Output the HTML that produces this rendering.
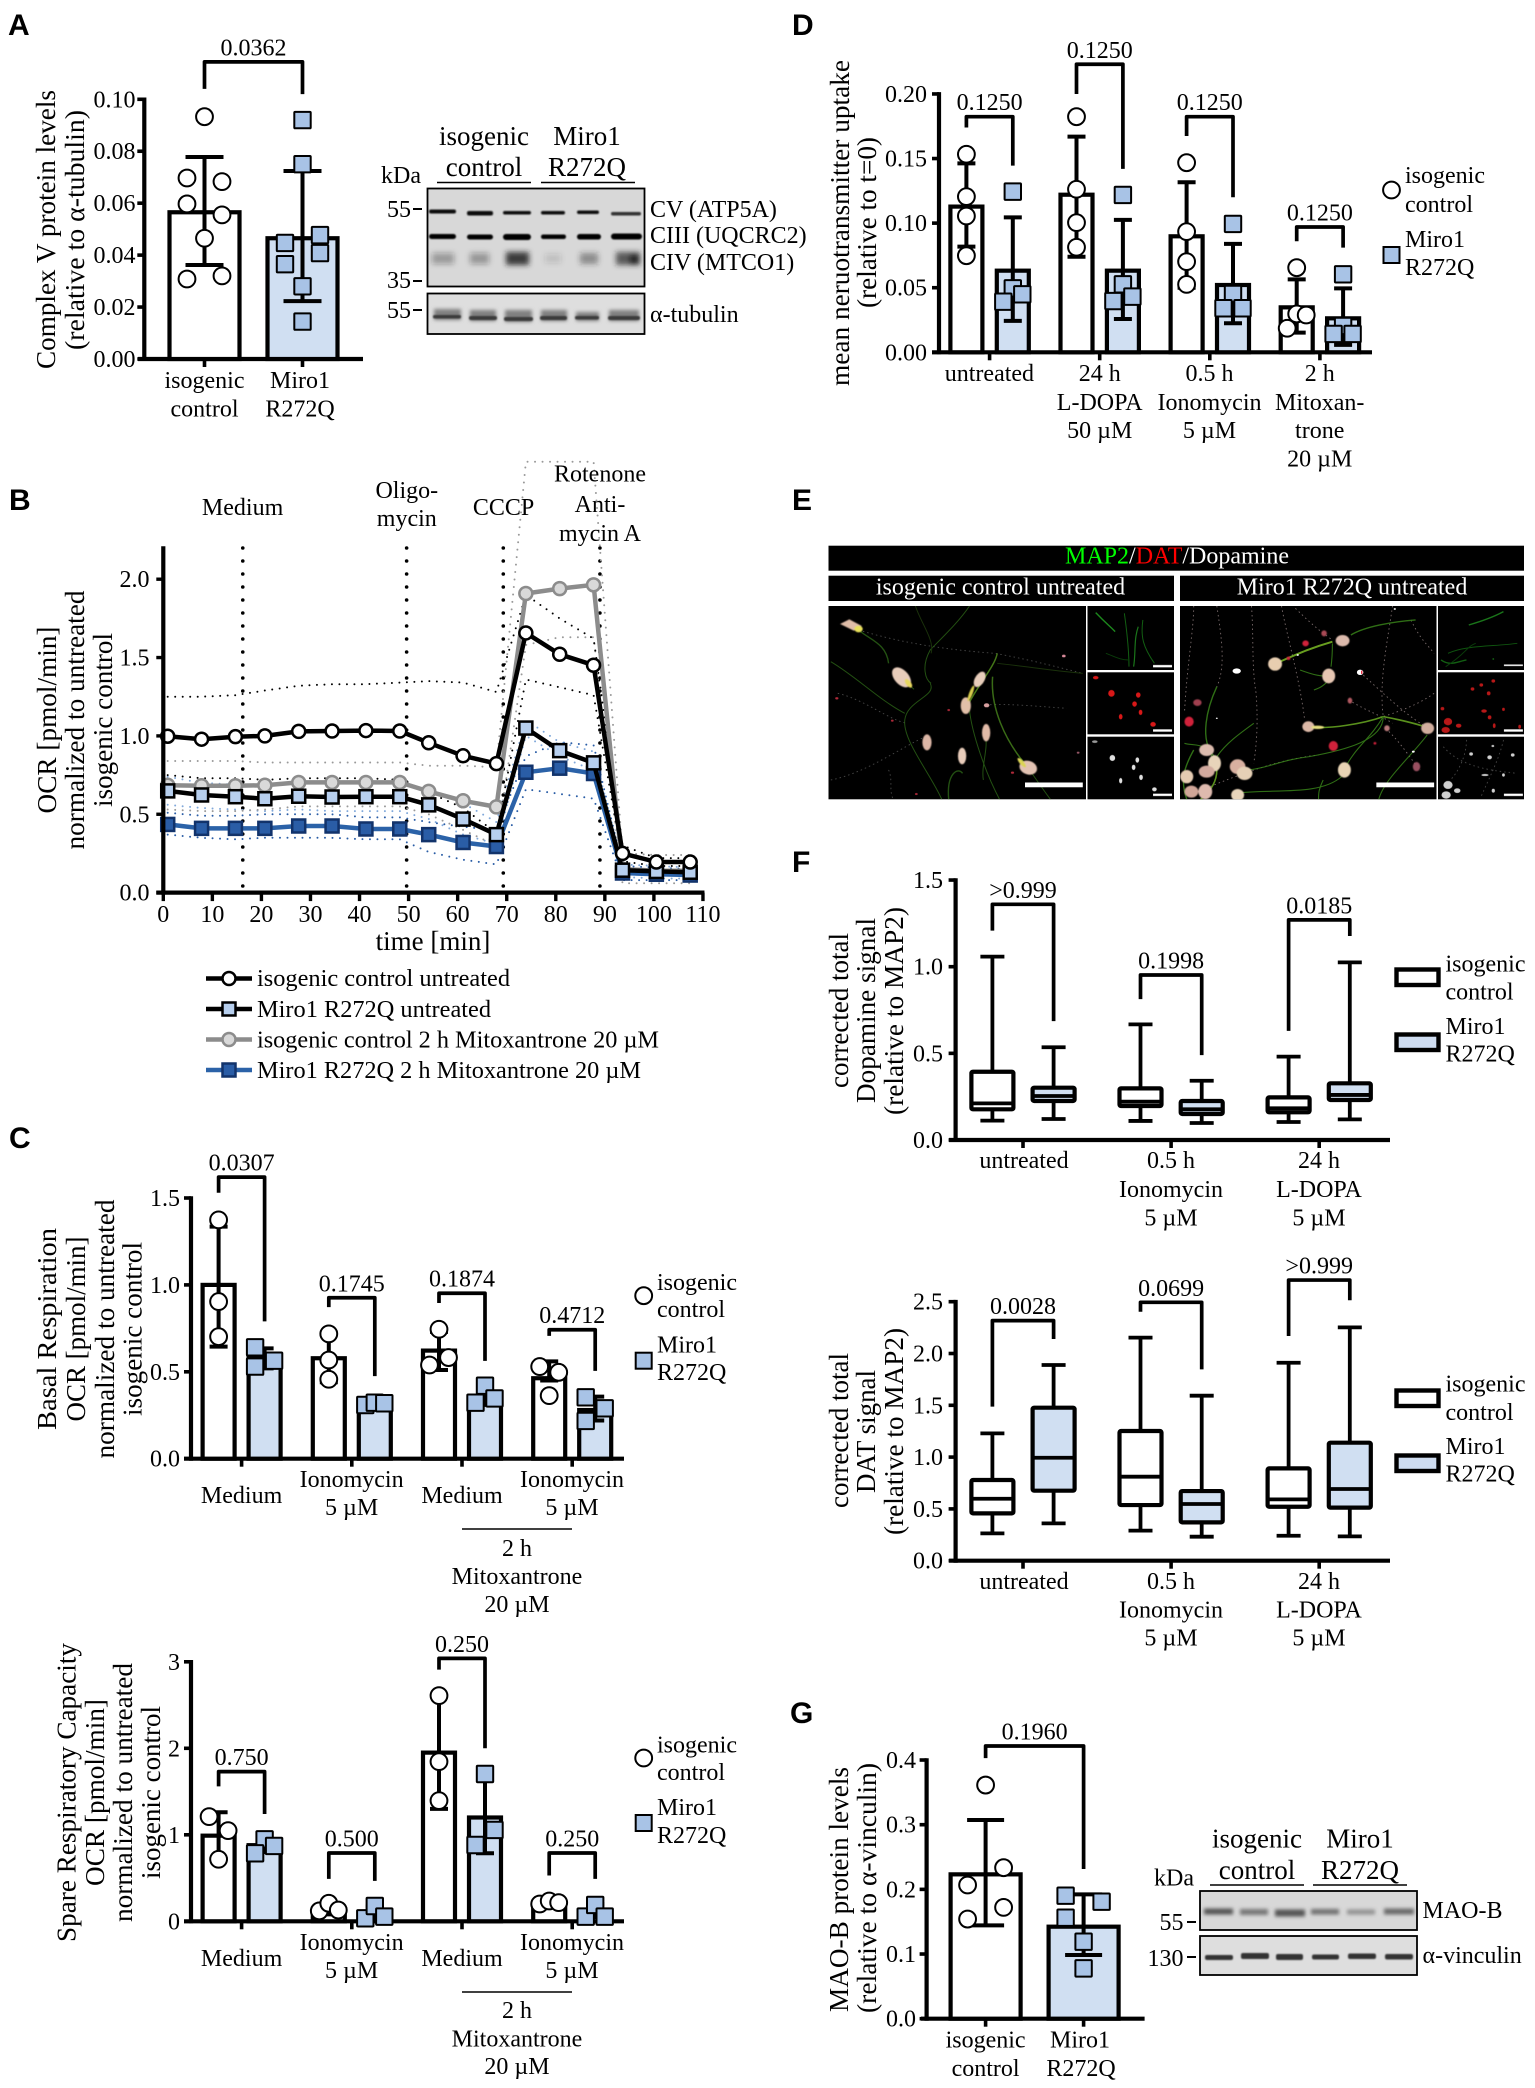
<!DOCTYPE html>
<html lang="en">
<head>
<meta charset="utf-8">
<title>Miro1 R272Q figure</title>
<style>
html,body{margin:0;padding:0;background:#fff}
svg{display:block;position:absolute;left:0;top:0}
text{font-family:"Liberation Serif","Noto Serif CJK SC",serif;font-size:24px;fill:#000}
.m{text-anchor:middle}
.b{text-anchor:middle;font-size:27px}
.t{font-size:27px;text-anchor:middle}
.p{font-family:"Liberation Sans","Noto Sans CJK SC",sans-serif;font-weight:bold;font-size:30px}
.w{fill:#fff}
.nss *{vector-effect:non-scaling-stroke}
</style>
</head>
<body>
<svg id="figure" xmlns="http://www.w3.org/2000/svg" width="1535" height="2088" viewBox="0 0 1535 2088">
<defs>
<filter id="blur1" x="-20%" y="-100%" width="140%" height="300%"><feGaussianBlur stdDeviation="0.9"/></filter>
<filter id="blur2" x="-20%" y="-100%" width="140%" height="300%"><feGaussianBlur stdDeviation="1.8"/></filter>
<filter id="blur3" x="-30%" y="-60%" width="160%" height="220%"><feGaussianBlur stdDeviation="2.6"/></filter>
<filter id="soft" x="-30%" y="-30%" width="160%" height="160%"><feGaussianBlur stdDeviation="1.2"/></filter>
<filter id="soft2" x="0%" y="0%" width="100%" height="100%"><feGaussianBlur stdDeviation="0.7"/></filter>
<clipPath id="clipL"><rect x="40" y="378" width="557" height="580"/></clipPath>
<clipPath id="clipR"><rect x="800" y="378" width="555" height="580"/></clipPath>
</defs>
<rect width="1535" height="2088" fill="#fff"/>

<!-- panel letters -->
<text class="p" x="8" y="35">A</text>
<text class="p" x="9" y="510">B</text>
<text class="p" x="9" y="1148">C</text>
<text class="p" x="792" y="35">D</text>
<text class="p" x="792" y="510">E</text>
<text class="p" x="792" y="872">F</text>
<text class="p" x="790" y="1723">G</text>

<!-- PANEL A -->
<g id="panelA"></g>
<g>
<text class="t" transform="translate(55,229.5) rotate(-90)" textLength="279" lengthAdjust="spacingAndGlyphs">Complex V protein levels</text>
<text class="t" transform="translate(84,230) rotate(-90)" textLength="240" lengthAdjust="spacingAndGlyphs">(relative to α-tubulin)</text>
<text class="m" x="204.5" y="388">isogenic</text>
<text class="m" x="204.5" y="416.5">control</text>
<text class="m" x="300" y="388">Miro1</text>
<text class="m" x="300" y="416.5">R272Q</text>
</g>
<g>
<text class="b" x="484" y="145">isogenic</text>
<text class="b" x="484" y="176">control</text>
<text class="b" x="587" y="145">Miro1</text>
<text class="b" x="587" y="176">R272Q</text>
<line x1="437" x2="531" y1="182.5" y2="182.5" stroke="#000" stroke-width="1.6"/>
<line x1="541" x2="635" y1="182.5" y2="182.5" stroke="#000" stroke-width="1.6"/>
<text x="381" y="183">kDa</text>
<text x="387" y="217">55</text>
<line x1="413" x2="422" y1="209" y2="209" stroke="#000" stroke-width="2"/>
<text x="387" y="288">35</text>
<line x1="413" x2="422" y1="281" y2="281" stroke="#000" stroke-width="2"/>
<text x="387" y="318">55</text>
<line x1="413" x2="422" y1="310" y2="310" stroke="#000" stroke-width="2"/>
<rect x="427.5" y="188.5" width="217" height="98" fill="#d8d8d8" stroke="#000" stroke-width="1.8"/>
<rect x="427.5" y="293.5" width="217" height="40.5" fill="#dedede" stroke="#000" stroke-width="1.8"/>
<g filter="url(#blur1)" fill="#111">
<rect x="429" y="209.5" width="27" height="4" rx="2"/>
<rect x="467" y="211" width="26" height="4.5" rx="2"/>
<rect x="503" y="211" width="28" height="3.5" rx="1.7"/>
<rect x="541" y="211" width="24" height="3.5" rx="1.7"/>
<rect x="577" y="210.5" width="22" height="3.5" rx="1.7"/>
<rect x="611" y="212" width="30" height="3.5" rx="1.7" fill="#333"/>
</g>
<g filter="url(#blur1)" fill="#000">
<rect x="429" y="234" width="27" height="5" rx="2.5"/>
<rect x="467" y="234.5" width="26" height="5" rx="2.5"/>
<rect x="503" y="234" width="28" height="6" rx="3"/>
<rect x="541" y="234.5" width="25" height="4.5" rx="2.2"/>
<rect x="577" y="234" width="24" height="5.5" rx="2.7"/>
<rect x="611" y="233.5" width="31" height="6" rx="3"/>
</g>
<g filter="url(#blur3)" fill="#222">
<rect x="432" y="253" width="22" height="11" opacity=".32"/>
<rect x="470" y="253" width="19" height="11" opacity=".34"/>
<rect x="506" y="252" width="23" height="13" opacity=".85"/>
<rect x="545" y="254" width="16" height="9" opacity=".14"/>
<rect x="580" y="253" width="18" height="11" opacity=".42"/>
<rect x="616" y="252" width="24" height="13" opacity=".7"/>
<rect x="630" y="255" width="9" height="9"/>
</g>
<g filter="url(#blur2)" fill="#808080">
<rect x="434" y="309" width="27" height="11"/>
<rect x="470" y="310" width="26" height="11"/>
<rect x="505" y="310" width="27" height="12"/>
<rect x="541" y="310" width="26" height="11"/>
<rect x="576" y="312" width="23" height="9"/>
<rect x="609" y="310" width="30" height="11"/>
</g>
<g filter="url(#blur1)" fill="#3a3a3a">
<rect x="433" y="315" width="28" height="3.5" rx="1.7"/>
<rect x="469" y="316" width="28" height="4" rx="2"/>
<rect x="504" y="317" width="29" height="4" rx="2"/>
<rect x="540" y="316" width="27" height="4" rx="2"/>
<rect x="575" y="316" width="24" height="3.5" rx="1.7"/>
<rect x="608" y="316" width="32" height="4" rx="2"/>
</g>
<text x="650" y="217">CV (ATP5A)</text>
<text x="650" y="243">CIII (UQCRC2)</text>
<text x="650" y="270">CIV (MTCO1)</text>
<text x="650" y="322">α-tubulin</text>
</g>

<!-- PANEL B -->
<g id="panelB"></g>
<g>
<text class="m" x="242.6" y="515">Medium</text>
<text class="m" x="406.8" y="498">Oligo-</text>
<text class="m" x="406.8" y="526">mycin</text>
<text class="m" x="503.5" y="515">CCCP</text>
<text class="m" x="600" y="481.5">Rotenone</text>
<text class="m" x="600" y="512">Anti-</text>
<text class="m" x="600" y="541">mycin A</text>
<text class="m" x="433" y="950" font-size="27" style="font-size:27px">time [min]</text>
<text class="t" transform="translate(56,720) rotate(-90)" textLength="187" lengthAdjust="spacingAndGlyphs">OCR [pmol/min]</text>
<text class="t" transform="translate(84,720) rotate(-90)" textLength="259" lengthAdjust="spacingAndGlyphs">normalized to untreated</text>
<text class="t" transform="translate(112,720) rotate(-90)" textLength="174" lengthAdjust="spacingAndGlyphs">isogenic control</text>
</g>
<g>
<g>
<line x1="206" x2="252" y1="978.5" y2="978.5" stroke="#000" stroke-width="4.5"/>
<circle cx="229" cy="978.5" r="6.5" fill="#fff" stroke="#000" stroke-width="2.5"/>
<text x="257" y="986" textLength="253" lengthAdjust="spacingAndGlyphs">isogenic control untreated</text>
</g>
<g>
<line x1="206" x2="252" y1="1009" y2="1009" stroke="#000" stroke-width="4.5"/>
<rect x="222.5" y="1002.5" width="13" height="13" fill="#b7cfee" stroke="#000" stroke-width="2.5"/>
<text x="257" y="1017" textLength="234" lengthAdjust="spacingAndGlyphs">Miro1 R272Q untreated</text>
</g>
<g>
<line x1="206" x2="252" y1="1039.5" y2="1039.5" stroke="#8c8c8c" stroke-width="4.5"/>
<circle cx="229" cy="1039.5" r="6.5" fill="#d9d9d9" stroke="#8c8c8c" stroke-width="2.5"/>
<text x="257" y="1047.5" textLength="402" lengthAdjust="spacingAndGlyphs">isogenic control 2 h Mitoxantrone 20 µM</text>
</g>
<g>
<line x1="206" x2="252" y1="1070" y2="1070" stroke="#2b62a8" stroke-width="4.5"/>
<rect x="222.5" y="1063.5" width="13" height="13" fill="#2a5da6" stroke="#12336b" stroke-width="2.5"/>
<text x="257" y="1078" textLength="384" lengthAdjust="spacingAndGlyphs">Miro1 R272Q 2 h Mitoxantrone 20 µM</text>
</g>
</g>

<!-- PANEL C top -->
<g id="panelC1"></g>
<g>
<text class="t" transform="translate(56,1329) rotate(-90)" textLength="202" lengthAdjust="spacingAndGlyphs">Basal Respiration</text>
<text class="t" transform="translate(85,1329) rotate(-90)" textLength="185" lengthAdjust="spacingAndGlyphs">OCR [pmol/min]</text>
<text class="t" transform="translate(114,1329) rotate(-90)" textLength="259" lengthAdjust="spacingAndGlyphs">normalized to untreated</text>
<text class="t" transform="translate(141.5,1329) rotate(-90)" textLength="174" lengthAdjust="spacingAndGlyphs">isogenic control</text>
<text class="m" x="241.6" y="1503">Medium</text>
<text class="m" x="351.6" y="1487">Ionomycin</text>
<text class="m" x="351.6" y="1515">5 µM</text>
<text class="m" x="462" y="1503">Medium</text>
<text class="m" x="572" y="1487">Ionomycin</text>
<text class="m" x="572" y="1515">5 µM</text>
<line x1="462" x2="572" y1="1529" y2="1529" stroke="#000" stroke-width="1.6"/>
<text class="m" x="517" y="1556">2 h</text>
<text class="m" x="517" y="1584">Mitoxantrone</text>
<text class="m" x="517" y="1612">20 µM</text>
<circle cx="643.7" cy="1295.7" r="8.4" fill="#fff" stroke="#000" stroke-width="2"/>
<text x="657" y="1290">isogenic</text>
<text x="657" y="1317">control</text>
<rect x="635.7" y="1352.7" width="16" height="16" fill="#a8c3e6" stroke="#000" stroke-width="2"/>
<text x="657" y="1352.7">Miro1</text>
<text x="657" y="1380">R272Q</text>
</g>

<!-- PANEL C bottom -->
<g id="panelC2"></g>
<g>
<text class="t" transform="translate(75.5,1792.5) rotate(-90)" textLength="299" lengthAdjust="spacingAndGlyphs">Spare Respiratory Capacity</text>
<text class="t" transform="translate(104,1792.5) rotate(-90)" textLength="187" lengthAdjust="spacingAndGlyphs">OCR [pmol/min]</text>
<text class="t" transform="translate(132,1792.5) rotate(-90)" textLength="259" lengthAdjust="spacingAndGlyphs">normalized to untreated</text>
<text class="t" transform="translate(160,1792.5) rotate(-90)" textLength="173" lengthAdjust="spacingAndGlyphs">isogenic control</text>
<text class="m" x="241.6" y="1966">Medium</text>
<text class="m" x="351.6" y="1950">Ionomycin</text>
<text class="m" x="351.6" y="1978">5 µM</text>
<text class="m" x="462" y="1966">Medium</text>
<text class="m" x="572" y="1950">Ionomycin</text>
<text class="m" x="572" y="1978">5 µM</text>
<line x1="462" x2="572" y1="1992" y2="1992" stroke="#000" stroke-width="1.6"/>
<text class="m" x="517" y="2018">2 h</text>
<text class="m" x="517" y="2046.5">Mitoxantrone</text>
<text class="m" x="517" y="2074">20 µM</text>
<circle cx="643.7" cy="1758" r="8.4" fill="#fff" stroke="#000" stroke-width="2"/>
<text x="657" y="1752.7">isogenic</text>
<text x="657" y="1780">control</text>
<rect x="635.7" y="1815" width="16" height="16" fill="#a8c3e6" stroke="#000" stroke-width="2"/>
<text x="657" y="1815">Miro1</text>
<text x="657" y="1843">R272Q</text>
</g>

<!-- PANEL D -->
<g id="panelD"></g>
<g>
<text class="t" transform="translate(849,223) rotate(-90)" textLength="326" lengthAdjust="spacingAndGlyphs">mean neruotransmitter uptake</text>
<text class="t" transform="translate(876,222.5) rotate(-90)" textLength="171" lengthAdjust="spacingAndGlyphs">(relative to t=0)</text>
<text class="m" x="989.4" y="381">untreated</text>
<text class="m" x="1099.7" y="381">24 h</text>
<text class="m" x="1099.7" y="410">L-DOPA</text>
<text class="m" x="1099.7" y="438">50 µM</text>
<text class="m" x="1209.5" y="381">0.5 h</text>
<text class="m" x="1209.5" y="410">Ionomycin</text>
<text class="m" x="1209.5" y="438">5 µM</text>
<text class="m" x="1319.7" y="381">2 h</text>
<text class="m" x="1319.7" y="410">Mitoxan-</text>
<text class="m" x="1319.7" y="438">trone</text>
<text class="m" x="1319.7" y="466.5">20 µM</text>
<circle cx="1391.5" cy="190" r="8.4" fill="#fff" stroke="#000" stroke-width="2"/>
<text x="1405" y="183">isogenic</text>
<text x="1405" y="212">control</text>
<rect x="1383.5" y="247" width="16" height="16" fill="#a8c3e6" stroke="#000" stroke-width="2"/>
<text x="1405" y="247">Miro1</text>
<text x="1405" y="275">R272Q</text>
</g>

<!-- PANEL E -->
<g>
<rect x="828.5" y="545.7" width="695.5" height="25" fill="#000"/>
<text class="m" x="1177" y="563.5"><tspan fill="#00ff00">MAP2</tspan><tspan fill="#fff">/</tspan><tspan fill="#ff0000">DAT</tspan><tspan fill="#fff">/Dopamine</tspan></text>
<rect x="828.5" y="575.7" width="345.5" height="25.3" fill="#000"/>
<rect x="1180" y="575.7" width="344" height="25.3" fill="#000"/>
<text class="m w" x="1000.5" y="594.5">isogenic control untreated</text>
<text class="m w" x="1352" y="594.5">Miro1 R272Q untreated</text>
<rect x="828.5" y="606" width="257.5" height="193.3" fill="#000"/>
<rect x="1087.5" y="606" width="86.5" height="64" fill="#000"/>
<rect x="1087.5" y="672.3" width="86.5" height="62" fill="#000"/>
<rect x="1087.5" y="736.7" width="86.5" height="62.6" fill="#000"/>
<rect x="1180" y="606" width="256.5" height="193.3" fill="#000"/>
<rect x="1438" y="606" width="86" height="64" fill="#000"/>
<rect x="1438" y="672.3" width="86" height="62" fill="#000"/>
<rect x="1438" y="736.7" width="86" height="62.6" fill="#000"/>

<g class="nss" transform="translate(810 480) scale(.4623 .3333)">
<g clip-path="url(#clipL)">
<g fill="none" stroke="#666" stroke-width=".9" stroke-dasharray="1.5 3" opacity=".7">
<path d="M105,450C200,490 300,510 400,520C480,540 560,570 590,580"/><path d="M380,675C430,670 500,680 555,685"/><path d="M45,900C120,880 200,800 250,770"/><path d="M60,640C120,660 170,720 210,730"/><path d="M170,870C180,900 170,930 180,958"/>
</g>
<g fill="none" stroke="#2a5f16" stroke-width="1" opacity=".85">
<path d="M105,450C130,480 165,490 170,550" stroke-width="1.4"/><path d="M195,590L225,628"/><path d="M260,610C275,650 210,660 205,720C200,780 260,880 285,958"/><path d="M340,680C360,620 400,560 405,520" stroke-width="1.5" stroke="#4f8a1c"/><path d="M345,690C350,760 380,880 410,958"/><path d="M395,590C390,680 420,780 470,860" stroke-width="1.5" stroke="#437d1a"/><path d="M470,860C490,900 510,940 520,958"/><path d="M300,958C295,880 320,860 330,880" stroke-width="1.4"/><path d="M345,378C320,430 280,480 260,510C240,560 250,600 262,610"/><path d="M45,545C100,590 150,660 205,700"/><path d="M380,770C385,810 370,860 375,900"/><path d="M405,550C470,560 540,575 590,580" stroke="#1f3a0d"/><path d="M228,378C240,430 270,480 262,520" stroke="#1f3a0d"/>
</g>
<g filter="url(#soft)">
<path d="M65,432L85,418L112,438L95,452Z" fill="#e0bda8"/><ellipse cx="105" cy="447" rx="9" ry="10" fill="#e8e05a"/>
<ellipse cx="198" cy="592" rx="17" ry="32" transform="rotate(-25 198 592)" fill="#e8cdbb"/><ellipse cx="213" cy="610" rx="6" ry="14" transform="rotate(-25 213 610)" fill="#e8d860"/>
<ellipse cx="367" cy="598" rx="11" ry="24" transform="rotate(18 367 598)" fill="#e8cdbb"/>
<ellipse cx="337" cy="677" rx="11" ry="25" fill="#e2bfa8"/><ellipse cx="348" cy="640" rx="4" ry="24" transform="rotate(15 348 640)" fill="#d8cc4c"/>
<ellipse cx="381" cy="758" rx="9" ry="26" fill="#e2bba8"/>
<ellipse cx="253" cy="787" rx="10" ry="24" fill="#dcb6a6"/>
<ellipse cx="329" cy="828" rx="9" ry="25" fill="#e8ccba"/>
<ellipse cx="472" cy="863" rx="18" ry="22" transform="rotate(-30 472 863)" fill="#e2c2b2"/><ellipse cx="458" cy="848" rx="5" ry="16" transform="rotate(-30 458 848)" fill="#dcd455"/>
</g>
<g fill="#b02a3a"><circle cx="58" cy="655" r="3.5"/><circle cx="549" cy="528" r="4" fill="#d88a9a"/><circle cx="438" cy="878" r="3.5"/><circle cx="230" cy="942" r="3"/><circle cx="382" cy="676" r="6" fill="#d8a0a0"/><circle cx="300" cy="690" r="3"/><circle cx="178" cy="722" r="3"/><circle cx="580" cy="818" r="3" fill="#995868"/></g>
</g>
<g clip-path="url(#clipR)">
<g fill="none" stroke="#907f7f" stroke-width=".9" stroke-dasharray="1.5 3" opacity=".85">
<path d="M830,378C830,450 815,560 810,700"/><path d="M880,378C890,470 900,560 880,620"/><path d="M955,378C960,470 955,560 965,640C970,740 965,800 960,850"/><path d="M1050,385C1090,440 1110,460 1130,480"/><path d="M1020,378C1030,460 1060,600 1070,720"/><path d="M1165,660C1200,690 1240,710 1260,730"/><path d="M1260,378C1250,480 1230,600 1240,710"/><path d="M1190,577C1240,640 1300,720 1340,745"/><path d="M1300,420C1320,480 1340,500 1350,520"/><path d="M1350,640C1310,680 1260,700 1240,710"/><path d="M830,940C900,900 1000,840 1100,825"/><path d="M1245,745C1280,790 1300,840 1320,870"/>
</g>
<g fill="none" stroke="#357a18" stroke-width="1.1" opacity=".9">
<path d="M1005,552C1050,525 1080,505 1130,485" stroke-width="2" stroke="#74b023"/><path d="M1170,465C1200,440 1260,425 1310,420" stroke-width="1.4"/><path d="M1078,740C1120,750 1200,730 1240,710C1280,720 1320,735 1340,745" stroke-width="1.6" stroke="#63a020"/><path d="M875,850C860,780 830,800 810,790" /><path d="M880,620C860,680 840,780 875,830" stroke-width="1.4"/><path d="M950,870C1000,860 1020,840 1080,830C1160,810 1240,780 1240,710" /><path d="M1155,870C1180,800 1210,780 1240,710"/><path d="M920,940C1000,925 1100,950 1150,890"/><path d="M1122,588C1100,590 1080,580 1060,570"/><path d="M1127,560C1130,530 1130,510 1130,490"/><path d="M1122,600C1110,620 1100,625 1090,630"/><path d="M1230,960C1240,900 1300,830 1335,765" /><path d="M830,810C810,860 800,900 815,958" stroke-width="1.4"/><path d="M880,870C880,900 870,930 845,958" stroke-width="1.6" stroke="#63a020"/><path d="M1110,900C1100,930 1100,940 1100,958"/><path d="M960,730C930,760 900,790 880,830"/>
</g>
<g filter="url(#soft)">
<ellipse cx="1006" cy="552" rx="15" ry="20" fill="#e8ceb0"/><ellipse cx="1152" cy="482" rx="15" ry="17" fill="#dcbaac"/><ellipse cx="1122" cy="588" rx="14" ry="22" fill="#e6c6b2"/><ellipse cx="1078" cy="740" rx="13" ry="16" fill="#dcb8a6"/><ellipse cx="1098" cy="742" rx="14" ry="5" fill="#e8e080"/><ellipse cx="1336" cy="745" rx="14" ry="17" fill="#d2ae9e"/><ellipse cx="1156" cy="870" rx="14" ry="23" fill="#e8d4b4"/>
<ellipse cx="858" cy="810" rx="16" ry="18" fill="#dcbcae"/><ellipse cx="875" cy="850" rx="14" ry="24" fill="#e8d4ba"/><ellipse cx="815" cy="890" rx="14" ry="20" fill="#e6ccb2"/><ellipse cx="858" cy="875" rx="17" ry="18" fill="#d2aa9e"/><ellipse cx="855" cy="935" rx="15" ry="23" fill="#debaae"/><ellipse cx="825" cy="935" rx="15" ry="18" fill="#d0a698"/><ellipse cx="925" cy="860" rx="17" ry="22" fill="#d8b0a0"/><ellipse cx="940" cy="880" rx="17" ry="20" fill="#e6d0b6"/><ellipse cx="925" cy="945" rx="14" ry="18" fill="#e8d4ba"/>
</g>
<g fill="#d0203a" filter="url(#soft)"><ellipse cx="1072" cy="490" rx="7" ry="9"/><ellipse cx="1132" cy="798" rx="10" ry="15"/><ellipse cx="820" cy="725" rx="10" ry="15"/><ellipse cx="838" cy="668" rx="9" ry="10" fill="#a04050"/><ellipse cx="1112" cy="460" rx="6" ry="9" fill="#a84854"/><ellipse cx="1168" cy="662" rx="5" ry="9" fill="#b05860"/><ellipse cx="1248" cy="745" rx="6" ry="9" fill="#b87878"/><ellipse cx="1312" cy="860" rx="8" ry="14" fill="#985060"/><ellipse cx="1222" cy="790" rx="3" ry="4"/><ellipse cx="1035" cy="535" rx="4" ry="5"/></g>
<g fill="#fff"><ellipse cx="923" cy="573" rx="9" ry="8"/><ellipse cx="1190" cy="577" rx="7" ry="8"/><circle cx="1055" cy="525" r="2.5"/><circle cx="1305" cy="815" r="3"/><circle cx="880" cy="715" r="2"/><circle cx="1265" cy="387" r="2.5"/></g>
<rect x="1192" y="572" width="3" height="10" fill="#e0243a"/>
</g>
<rect x="465" y="908" width="125" height="14" fill="#fff"/>
<rect x="1225" y="908" width="125" height="14" fill="#fff"/>

<g fill="none" stroke="#167016" stroke-width="1" opacity=".85">
<path d="M618,398C640,430 650,440 660,455" stroke-width="1.4" stroke="#22a022"/><path d="M680,400C685,450 690,510 690,560"/><path d="M720,420C715,470 720,500 745,550"/><path d="M710,440C700,480 705,520 700,560" stroke-width="1.2" stroke="#1f8a1f"/><path d="M640,520C660,530 670,540 690,540" stroke="#0c480c"/>
</g>
<g fill="#d81818"><ellipse cx="618" cy="593" rx="6" ry="5"/><ellipse cx="652" cy="640" rx="7" ry="10"/><ellipse cx="710" cy="645" rx="5" ry="8"/><ellipse cx="702" cy="672" rx="5" ry="8"/><ellipse cx="672" cy="710" rx="4" ry="8"/><ellipse cx="715" cy="697" rx="4" ry="8"/><ellipse cx="742" cy="733" rx="6" ry="7"/></g>
<g fill="#e0e0e0"><ellipse cx="616" cy="785" rx="6" ry="4" fill="#999"/><ellipse cx="654" cy="834" rx="6" ry="9"/><ellipse cx="708" cy="840" rx="4" ry="8"/><ellipse cx="700" cy="862" rx="4" ry="8"/><ellipse cx="672" cy="902" rx="3.5" ry="8"/><ellipse cx="716" cy="892" rx="4" ry="8"/><ellipse cx="745" cy="928" rx="5" ry="6"/></g>
<g fill="none" stroke="#167016" stroke-width="1" opacity=".85">
<path d="M1425,435C1450,425 1480,410 1500,395" stroke-width="1.4" stroke="#1f8a1f"/><path d="M1380,520C1420,495 1480,500 1530,490" stroke="#126212"/><path d="M1365,540C1385,560 1400,545 1420,540" stroke-width="1.4"/><path d="M1375,560C1420,520 1420,500 1440,490" stroke="#0c480c"/><circle cx="1478" cy="537" r="2" fill="#22a022" stroke="none"/>
</g>
<g fill="#b81818"><ellipse cx="1433" cy="627" rx="4" ry="5"/><ellipse cx="1452" cy="615" rx="4" ry="5"/><ellipse cx="1478" cy="603" rx="4" ry="5"/><ellipse cx="1468" cy="640" rx="4" ry="6"/><ellipse cx="1368" cy="686" rx="4" ry="5"/><ellipse cx="1458" cy="693" rx="6" ry="5"/><ellipse cx="1500" cy="688" rx="3" ry="5"/><ellipse cx="1470" cy="712" rx="4" ry="6"/><ellipse cx="1480" cy="737" rx="3" ry="7"/><ellipse cx="1380" cy="725" rx="9" ry="11"/><ellipse cx="1403" cy="737" rx="6" ry="6"/><ellipse cx="1375" cy="750" rx="9" ry="9"/><ellipse cx="1535" cy="740" rx="3" ry="6"/></g>
<g fill="#d0d0d0"><ellipse cx="1430" cy="822" rx="4" ry="5"/><ellipse cx="1470" cy="832" rx="5" ry="6"/><ellipse cx="1520" cy="825" rx="4" ry="5"/><ellipse cx="1477" cy="798" rx="3" ry="3"/><ellipse cx="1460" cy="885" rx="8" ry="3"/><ellipse cx="1500" cy="885" rx="3" ry="5"/><ellipse cx="1478" cy="932" rx="3.5" ry="6"/><ellipse cx="1380" cy="915" rx="10" ry="12"/><ellipse cx="1400" cy="932" rx="7" ry="7"/><ellipse cx="1376" cy="945" rx="10" ry="11"/>
<path d="M1370,800C1400,850 1450,870 1530,880M1420,780C1420,830 1400,880 1385,900M1500,780C1490,840 1470,890 1450,955" fill="none" stroke="#555" stroke-width=".8" stroke-dasharray="1.5 3"/></g>
<rect x="742" y="555" width="41" height="7" fill="#fff"/>
<rect x="742" y="748" width="41" height="7" fill="#fff"/>
<rect x="742" y="941" width="41" height="7" fill="#fff"/>
<rect x="1501" y="553" width="41" height="5" fill="#fff"/>
<rect x="1501" y="748" width="41" height="7" fill="#fff"/>
<rect x="1501" y="941" width="41" height="7" fill="#fff"/>
</g>
</g>

<!-- PANEL F top -->
<g id="panelF1"></g>
<g>
<text class="t" transform="translate(848,1010.5) rotate(-90)" textLength="155" lengthAdjust="spacingAndGlyphs">corrected total</text>
<text class="t" transform="translate(875,1010.5) rotate(-90)" textLength="185" lengthAdjust="spacingAndGlyphs">Dopamine signal</text>
<text class="t" transform="translate(903,1011) rotate(-90)" textLength="208" lengthAdjust="spacingAndGlyphs">(relative to MAP2)</text>
<text class="m" x="1024" y="1168">untreated</text>
<text class="m" x="1171" y="1168">0.5 h</text>
<text class="m" x="1171" y="1197">Ionomycin</text>
<text class="m" x="1171" y="1225.5">5 µM</text>
<text class="m" x="1319" y="1168">24 h</text>
<text class="m" x="1319" y="1197">L-DOPA</text>
<text class="m" x="1319" y="1225.5">5 µM</text>
<rect x="1396.5" y="969.5" width="42" height="15.5" fill="#fff" stroke="#000" stroke-width="4.4"/>
<text x="1445.5" y="971.5">isogenic</text>
<text x="1445.5" y="999.5">control</text>
<rect x="1396.5" y="1034.5" width="42" height="15.5" fill="#cedcf0" stroke="#000" stroke-width="4.4"/>
<text x="1445.5" y="1034">Miro1</text>
<text x="1445.5" y="1061.5">R272Q</text>
</g>

<!-- PANEL F bottom -->
<g id="panelF2"></g>
<g>
<text class="t" transform="translate(848,1430.5) rotate(-90)" textLength="155" lengthAdjust="spacingAndGlyphs">corrected total</text>
<text class="t" transform="translate(875,1431.5) rotate(-90)" textLength="123" lengthAdjust="spacingAndGlyphs">DAT signal</text>
<text class="t" transform="translate(903,1431.5) rotate(-90)" textLength="207" lengthAdjust="spacingAndGlyphs">(relative to MAP2)</text>
<text class="m" x="1024" y="1589">untreated</text>
<text class="m" x="1171" y="1589">0.5 h</text>
<text class="m" x="1171" y="1617.5">Ionomycin</text>
<text class="m" x="1171" y="1645.5">5 µM</text>
<text class="m" x="1319" y="1589">24 h</text>
<text class="m" x="1319" y="1617.5">L-DOPA</text>
<text class="m" x="1319" y="1645.5">5 µM</text>
<rect x="1396.5" y="1390.5" width="42" height="15.5" fill="#fff" stroke="#000" stroke-width="4.4"/>
<text x="1445.5" y="1391.5">isogenic</text>
<text x="1445.5" y="1420">control</text>
<rect x="1396.5" y="1455.5" width="42" height="15.5" fill="#cedcf0" stroke="#000" stroke-width="4.4"/>
<text x="1445.5" y="1454">Miro1</text>
<text x="1445.5" y="1481.5">R272Q</text>
</g>

<!-- PANEL G -->
<g id="panelG"></g>
<g>
<text class="t" transform="translate(848,1889.5) rotate(-90)" textLength="245" lengthAdjust="spacingAndGlyphs">MAO-B protein levels</text>
<text class="t" transform="translate(876,1888) rotate(-90)" textLength="250" lengthAdjust="spacingAndGlyphs">(relative to α-vinculin)</text>
<text class="m" x="985.6" y="2047.5">isogenic</text>
<text class="m" x="985.6" y="2076">control</text>
<text class="m" x="1080" y="2047.5">Miro1</text>
<text class="m" x="1081" y="2076">R272Q</text>
</g>
<g>
<text class="b" x="1257" y="1847.5">isogenic</text>
<text class="b" x="1257" y="1879">control</text>
<text class="b" x="1360" y="1847.5">Miro1</text>
<text class="b" x="1360" y="1879">R272Q</text>
<line x1="1210" x2="1304" y1="1885" y2="1885" stroke="#000" stroke-width="1.6"/>
<line x1="1313" x2="1407" y1="1885" y2="1885" stroke="#000" stroke-width="1.6"/>
<text x="1154" y="1885.5">kDa</text>
<text x="1183.5" y="1930" text-anchor="end">55</text>
<line x1="1187" x2="1196" y1="1922" y2="1922" stroke="#000" stroke-width="2"/>
<text x="1183.5" y="1966" text-anchor="end">130</text>
<line x1="1187" x2="1196" y1="1957" y2="1957" stroke="#000" stroke-width="2"/>
<rect x="1200" y="1891" width="217" height="39" fill="#d8d8d8" stroke="#000" stroke-width="1.8"/>
<rect x="1200" y="1936" width="217" height="39" fill="#dedede" stroke="#000" stroke-width="1.8"/>
<g filter="url(#blur2)" fill="#555">
<rect x="1204" y="1908.5" width="29" height="6"/>
<rect x="1240" y="1909" width="28" height="6" opacity=".75"/>
<rect x="1275" y="1909.5" width="30" height="7"/>
<rect x="1311" y="1909" width="28" height="5.5" opacity=".8"/>
<rect x="1347" y="1909.5" width="28" height="5" opacity=".55"/>
<rect x="1384" y="1908.5" width="30" height="6" opacity=".85"/>
</g>
<g filter="url(#blur1)" fill="#333">
<rect x="1205" y="1955" width="28" height="5" rx="2"/>
<rect x="1241" y="1953" width="28" height="6" rx="2"/>
<rect x="1276" y="1954" width="27" height="6" rx="2"/>
<rect x="1312" y="1954.5" width="27" height="5" rx="2"/>
<rect x="1348" y="1953.5" width="28" height="5.5" rx="2"/>
<rect x="1385" y="1954" width="28" height="5.5" rx="2"/>
</g>
<text x="1422.5" y="1918">MAO-B</text>
<text x="1422.5" y="1963">α-vinculin</text>
</g>

<script>
/* ---------- Panel A ---------- */
const aTickLabels = ['0.00','0.02','0.04','0.06','0.08','0.10'];
const aMeans = [0.0565,0.0465];
const aErrHigh = [0.0778,0.0724];
const aErrLow = [0.0362,0.0223];
const aPoints = [[0.0933,0.0697,0.0683,0.0597,0.0555,0.0465,0.0308,0.032],[0.092,0.075,0.0447,0.0477,0.0408,0.0365,0.028,0.0144]];
const aDodge = [[0,-1,1,-1,1,0,-1,1],[0,0,-1,1,1,-1,0,0]];
const aPValues = ['0.0362'];
const aBracketTop = [0.1144];
const aBracketLeftEnd = [0.104];
const aBracketRightEnd = [0.102];

/* ---------- Panel B ---------- */
const bXTickLabels = ['0','10','20','30','40','50','60','70','80','90','100','110'];
const bYTickLabels = ['0.0','0.5','1.0','1.5','2.0'];
const bInjectionTimes = [16.2,49.6,69.3,89];
const bTimes = [0.9,7.8,14.7,20.7,27.6,34.4,41.3,48.2,54.1,61.1,67.9,73.9,80.8,87.7,93.6,100.5,107.4];
const bControl = [0.998,0.979,0.995,1,1.029,1.031,1.034,1.031,0.956,0.873,0.823,1.657,1.521,1.451,0.25,0.195,0.195];
const bMiro = [0.649,0.623,0.612,0.599,0.615,0.61,0.612,0.612,0.56,0.469,0.37,1.05,0.906,0.828,0.143,0.135,0.13];
const bControlMito = [0.685,0.682,0.682,0.685,0.703,0.703,0.703,0.703,0.646,0.586,0.547,1.909,1.94,1.964,0.15,0.14,0.14];
const bMiroMito = [0.435,0.41,0.41,0.41,0.425,0.425,0.406,0.406,0.37,0.32,0.294,0.768,0.794,0.76,0.125,0.117,0.112];
const bControlUpper = [1.25,1.25,1.26,1.29,1.32,1.33,1.33,1.34,1.35,1.34,1.28,1.9,1.75,1.62,0.3,0.22,0.22];
const bControlLower = [0.75,0.73,0.73,0.72,0.73,0.73,0.73,0.72,0.64,0.54,0.38,1.36,1.31,1.26,0.2,0.17,0.17];
const bMiroUpper = [0.74,0.7,0.69,0.68,0.7,0.7,0.7,0.7,0.65,0.57,0.45,1.1,0.96,0.9,0.18,0.17,0.16];
const bMiroLower = [0.56,0.54,0.53,0.52,0.53,0.52,0.52,0.52,0.47,0.37,0.31,1,0.87,0.78,0.1,0.09,0.09];
const bControlMitoUpper = [0.84,0.84,0.84,0.83,0.83,0.83,0.83,0.83,0.81,0.81,0.8,2.75,2.75,2.75,0.25,0.24,0.24];
const bControlMitoLower = [0.53,0.52,0.52,0.53,0.55,0.55,0.55,0.55,0.5,0.4,0.3,1.58,1.63,1.63,0.06,0.06,0.06];
const bMiroMitoUpper = [0.51,0.49,0.49,0.5,0.5,0.5,0.48,0.48,0.45,0.42,0.4,0.87,0.96,0.94,0.17,0.16,0.15];
const bMiroMitoLower = [0.37,0.35,0.34,0.35,0.35,0.35,0.34,0.34,0.26,0.21,0.18,0.66,0.63,0.6,0.08,0.08,0.08];

/* ---------- Panel C, basal respiration ---------- */
const c1TickLabels = ['0.0','0.5','1.0','1.5'];
const c1Means = [1,0.58,0.578,0.315,0.622,0.36,0.463,0.28];
const c1ErrHigh = [1.335,0.635,0.72,0.33,0.73,0.42,0.56,0.357];
const c1ErrLow = [0.645,0.52,0.44,0.3,0.51,0.31,0.45,0.22];
const c1Points = [[1.374,0.904,0.702],[0.641,0.564,0.53],[0.718,0.568,0.457],[0.309,0.322,0.319],[0.745,0.539,0.582],[0.42,0.322,0.347],[0.53,0.497,0.363],[0.353,0.29,0.217]];
const c1Dodge = [[0,0,0],[-1,1,-1],[0,0,0],[-1,0,1],[0,-1,1],[0,-1,1],[-1,1,0],[-1,1,-1]];
const c1PValues = ['0.0307','0.1745','0.1874','0.4712'];
const c1BracketTop = [1.62,0.926,0.952,0.742];
const c1BracketLeftEnd = [1.53,0.872,0.896,0.707];
const c1BracketRightEnd = [0.79,0.475,0.563,0.505];

/* ---------- Panel C, spare capacity ---------- */
const c2TickLabels = ['0','1','2','3'];
const c2Means = [0.99,0.88,0.13,0.1,1.95,1.2,0.2,0.13];
const c2ErrHigh = [1.26,0.95,0.18,0.17,2.6,1.65,0.23,0.2];
const c2ErrLow = [0.72,0.8,0.08,0.03,1.3,0.786,0.17,0.05];
const c2Points = [[1.21,1.048,0.717],[0.948,0.786,0.871],[0.12,0.208,0.13],[0.035,0.177,0.054],[2.609,1.846,1.395],[1.703,1.056,0.882],[0.2,0.235,0.216],[0.054,0.189,0.054]];
const c2Dodge = [[-1,1,0],[0,-1,1],[-1,0,1],[-1,0,1],[0,0,0],[0,1,-1],[-1,0,1],[-1,0,1]];
const c2PValues = ['0.750','0.500','0.250','0.250'];
const c2BracketTop = [1.73,0.79,3.04,0.79];
const c2BracketLeftEnd = [1.56,0.49,2.91,0.53];
const c2BracketRightEnd = [1.24,0.467,2,0.49];

/* ---------- Panel D ---------- */
const dTickLabels = ['0.00','0.05','0.10','0.15','0.20'];
const dMeans = [0.1128,0.0632,0.122,0.0632,0.0898,0.0521,0.0348,0.0263];
const dErrHigh = [0.1463,0.1045,0.167,0.1025,0.1316,0.0839,0.0565,0.0495];
const dErrLow = [0.0818,0.0243,0.074,0.0258,0.05,0.0225,0.0152,0.0057];
const dPoints = [[0.1533,0.1205,0.1055,0.0748],[0.1244,0.0495,0.0392,0.0449],[0.1824,0.1262,0.1004,0.0813],[0.1218,0.0526,0.0397,0.0431],[0.1468,0.0934,0.0702,0.0526],[0.0994,0.0452,0.0341,0.0341],[0.0655,0.0297,0.0289,0.0186],[0.0604,0.0204,0.0142,0.0142]];
const dDodge = [[0,0,0,0],[0,0,-1,1],[0,0,0,0],[0,0,-1,1],[0,0,0,0],[0,0,-1,1],[0,0,1,-1],[0,0,-1,1]];
const dPValues = ['0.1250','0.1250','0.1250','0.1250'];
const dBracketTop = [0.1824,0.223,0.1824,0.097];
const dBracketLeftEnd = [0.174,0.2,0.1675,0.086];
const dBracketRightEnd = [0.1445,0.142,0.12,0.081];

/* ---------- Panel F, dopamine ---------- */
const f1TickLabels = ['0.0','0.5','1.0','1.5'];
const f1High = [1.058,0.535,0.667,0.342,0.481,1.025];
const f1Q3 = [0.394,0.302,0.298,0.225,0.246,0.327];
const f1Median = [0.2115,0.254,0.221,0.177,0.183,0.26];
const f1Q1 = [0.177,0.225,0.196,0.15,0.16,0.231];
const f1Low = [0.112,0.121,0.11,0.098,0.104,0.119];
const f1PValues = ['>0.999','0.1998','0.0185'];
const f1BracketTop = [1.36,0.952,1.27];
const f1BracketLeftEnd = [1.208,0.813,0.63];
const f1BracketRightEnd = [0.686,0.49,1.177];

/* ---------- Panel F, DAT ---------- */
const f2TickLabels = ['0.0','0.5','1.0','1.5','2.0','2.5'];
const f2High = [1.229,1.889,2.153,1.593,1.911,2.252];
const f2Q3 = [0.779,1.477,1.252,0.672,0.891,1.139];
const f2Median = [0.598,0.994,0.811,0.547,0.592,0.692];
const f2Q1 = [0.457,0.676,0.537,0.37,0.521,0.512];
const f2Low = [0.264,0.36,0.29,0.232,0.241,0.235];
const f2PValues = ['0.0028','0.0699','>0.999'];
const f2BracketTop = [2.317,2.494,2.709];
const f2BracketLeftEnd = [1.487,2.403,2.169];
const f2BracketRightEnd = [2.14,1.847,2.514];

/* ---------- Panel G ---------- */
const gTickLabels = ['0.0','0.1','0.2','0.3','0.4'];
const gMeans = [0.2232,0.1423];
const gErrHigh = [0.3072,0.1923];
const gErrLow = [0.1443,0.0985];
const gPoints = [[0.3613,0.2335,0.2067,0.1722,0.1541],[0.1902,0.1809,0.1562,0.1191,0.0778]];
const gDodge = [[0,1,-1,1,-1],[-1,1,-1,0,0]];
const gPValues = ['0.1960'];
const gBracketTop = [0.4217];
const gBracketLeftEnd = [0.403];
const gBracketRightEnd = [0.2314];

const SVGNS = 'http://www.w3.org/2000/svg';
const FILL_BAR = '#d0dff2';
const FILL_POINT = '#a8c3e6';

function add(parent, tag, attrs, text) {
  const el = document.createElementNS(SVGNS, tag);
  for (const k in attrs) el.setAttribute(k, attrs[k]);
  if (text !== undefined) el.textContent = text;
  parent.appendChild(el);
  return el;
}

function xCenter(c, i) {
  if (c.perGroup === 2) return c.x1 + Math.floor(i / 2) * c.dx + (i % 2 ? 1 : -1) * c.off;
  return c.x1 + i * c.dx;
}

function drawAxes(root, c) {
  const sy = v => c.y0 - v * c.unit;
  const topValue = c.yMax !== undefined ? c.yMax : parseFloat(c.tickLabels[c.tickLabels.length - 1]);
  const yAxis = add(root, 'line', {x1: c.axisX, x2: c.axisX, y1: sy(topValue) - 1.8, y2: c.y0 + 2, stroke: '#000', 'stroke-width': 4.2});
  
  
  const xAxis = add(root, 'line', {x1: c.xStart, x2: c.xEnd, y1: c.y0, y2: c.y0, stroke: '#000', 'stroke-width': 4.2});
  
  
  c.tickLabels.forEach(label => {
    const v = parseFloat(label);
    const tick = add(root, 'line', {x1: c.axisX - 7, x2: c.axisX, y1: sy(v), y2: sy(v), stroke: '#000', 'stroke-width': 3.6});
    
    
    const lab = add(root, 'text', {x: c.labelRight, y: sy(v) + 8, 'text-anchor': 'end'}, label);
    
    
  });
  for (let i = 0; i < c.xTicks; i++) {
    const x = c.x1 + i * c.dx;
    const tick = add(root, 'line', {x1: x, x2: x, y1: c.y0, y2: c.y0 + 8, stroke: '#000', 'stroke-width': 3.6});
    
    
  }
}

function drawBrackets(root, c) {
  const sy = v => c.y0 - v * c.unit;
  c.pValues.forEach((p, b) => {
    const i = c.perGroup === 2 ? 2 * b : 0;
    const xl = xCenter(c, i);
    const xr = xCenter(c, i + 1);
    const br = add(root, 'polyline', {
      points: [xl, sy(c.brLeft[b]), xl, sy(c.brTop[b]), xr, sy(c.brTop[b]), xr, sy(c.brRight[b])].join(','),
      fill: 'none', stroke: '#000', 'stroke-width': 3.7, 'stroke-linejoin': 'round'
    });
    
    
    const t = add(root, 'text', {x: (xl + xr) / 2, y: sy(c.brTop[b]) - 6.5, 'text-anchor': 'middle'}, p);
    
    
  });
}

function drawBarChart(root, c) {
  const sy = v => c.y0 - v * c.unit;
  drawAxes(root, c);
  c.means.forEach((m, i) => {
    const cx = xCenter(c, i);
    const bar = add(root, 'rect', {x: cx - c.barW / 2, y: sy(m), width: c.barW, height: c.y0 - sy(m), fill: i % 2 ? FILL_BAR : '#fff', stroke: '#000', 'stroke-width': 4.2});
    
    
  });
  c.means.forEach((m, i) => {
    const cx = xCenter(c, i);
    const stem = add(root, 'line', {x1: cx, x2: cx, y1: sy(c.errHigh[i]), y2: sy(c.errLow[i]), stroke: '#000', 'stroke-width': 4});
    
    
    [c.errHigh[i], c.errLow[i]].forEach(v => {
      const cap = add(root, 'line', {x1: cx - c.capW / 2, x2: cx + c.capW / 2, y1: sy(v), y2: sy(v), stroke: '#000', 'stroke-width': 4});
      
      
    });
  });
  c.points.forEach((group, i) => {
    const cx = xCenter(c, i);
    group.forEach((v, k) => {
      const x = cx + c.dodge[i][k] * c.dodgeStep;
      let mark;
      if (i % 2) {
        mark = add(root, 'rect', {x: x - 8.2, y: sy(v) - 8.2, width: 16.4, height: 16.4, rx: 0.8, fill: FILL_POINT, stroke: '#000', 'stroke-width': 2});
      } else {
        mark = add(root, 'circle', {cx: x, cy: sy(v), r: 8.4, fill: '#fff', stroke: '#000', 'stroke-width': 2});
      }
      
      
    });
  });
  drawBrackets(root, c);
}

function drawBoxChart(root, c) {
  const sy = v => c.y0 - v * c.unit;
  drawAxes(root, c);
  c.median.forEach((med, i) => {
    const cx = xCenter(c, i);
    const whisker = add(root, 'line', {x1: cx, x2: cx, y1: sy(c.high[i]), y2: sy(c.low[i]), stroke: '#000', 'stroke-width': 3.8});
    
    
    [c.high[i], c.low[i]].forEach(v => {
      const cap = add(root, 'line', {x1: cx - 12, x2: cx + 12, y1: sy(v), y2: sy(v), stroke: '#000', 'stroke-width': 3.8});
      
      
    });
    const box = add(root, 'rect', {x: cx - 21, y: sy(c.q3[i]), width: 42, height: sy(c.q1[i]) - sy(c.q3[i]), rx: 1.5, fill: i % 2 ? FILL_BAR : '#fff', stroke: '#000', 'stroke-width': 4.2});
    
    
    const line = add(root, 'line', {x1: cx - 21, x2: cx + 21, y1: sy(med), y2: sy(med), stroke: '#000', 'stroke-width': 3.8});
    
    
  });
  drawBrackets(root, c);
}

function drawLineChart(root) {
  const x0 = 163.3, pxPerMin = 4.906, y0 = 892.6, pxPerUnit = 156.7;
  const sx = t => x0 + t * pxPerMin;
  const sy = v => y0 - v * pxPerUnit;
  const path = vals => vals.map((v, i) => (i ? 'L' : 'M') + sx(bTimes[i]).toFixed(1) + ',' + sy(v).toFixed(1)).join('');

  bInjectionTimes.forEach(t => {
    const line = add(root, 'line', {x1: sx(t), x2: sx(t), y1: 548, y2: y0, stroke: '#000', 'stroke-width': 3.6, 'stroke-linecap': 'round', 'stroke-dasharray': '0 13'});
    
    
  });

  [[bMiroMitoUpper, '#2a5da6'], [bMiroMitoLower, '#2a5da6'], [bMiroUpper, '#80a8da'], [bMiroLower, '#80a8da'], [bControlMitoUpper, '#999'], [bControlMitoLower, '#999'], [bControlUpper, '#000'], [bControlLower, '#000']].forEach(pair => {
    const band = add(root, 'path', {d: path(pair[0]), fill: 'none', stroke: pair[1], 'stroke-width': 2, 'stroke-linecap': 'round', 'stroke-dasharray': '0 7.5'});
    
    
  });

  const seriesVals = [bMiroMito, bControlMito, bMiro, bControl];
  const seriesLine = ['#2b62a8', '#8c8c8c', '#000', '#000'];
  const seriesFill = ['#2a5da6', '#d9d9d9', '#b7cfee', '#fff'];
  const seriesEdge = ['#12336b', '#8c8c8c', '#000', '#000'];
  const seriesSquare = [true, false, true, false];
  seriesVals.forEach((vals, s) => {
    const ln = add(root, 'path', {d: path(vals), fill: 'none', stroke: seriesLine[s], 'stroke-width': 4.5, 'stroke-linejoin': 'round'});
    
    
    vals.forEach((v, i) => {
      let pt;
      if (seriesSquare[s]) {
        pt = add(root, 'rect', {x: sx(bTimes[i]) - 6.5, y: sy(v) - 6.5, width: 13, height: 13, fill: seriesFill[s], stroke: seriesEdge[s], 'stroke-width': 2.5});
      } else {
        pt = add(root, 'circle', {cx: sx(bTimes[i]), cy: sy(v), r: 6.5, fill: seriesFill[s], stroke: seriesEdge[s], 'stroke-width': 2.5});
      }
      
      
    });
  });

  const yAxis = add(root, 'line', {x1: x0, x2: x0, y1: sy(2.21), y2: y0 + 2, stroke: '#000', 'stroke-width': 4.2});
  
  
  const xAxis = add(root, 'line', {x1: x0 - 7, x2: sx(110) + 1.5, y1: y0, y2: y0, stroke: '#000', 'stroke-width': 4.2});
  
  
  bYTickLabels.forEach(label => {
    const v = parseFloat(label);
    const tick = add(root, 'line', {x1: x0 - 7, x2: x0, y1: sy(v), y2: sy(v), stroke: '#000', 'stroke-width': 3.4});
    
    
    const lab = add(root, 'text', {x: 149.5, y: sy(v) + 8, 'text-anchor': 'end'}, label);
    
    
  });
  bXTickLabels.forEach(label => {
    const t = parseFloat(label);
    const tick = add(root, 'line', {x1: sx(t), x2: sx(t), y1: y0, y2: y0 + 8.5, stroke: '#000', 'stroke-width': 3.4});
    
    
    const lab = add(root, 'text', {x: sx(t), y: 922, 'text-anchor': 'middle'}, label);
    
    
  });
}

const byId = id => document.getElementById(id);

drawBarChart(byId('panelA'), {
  axisX: 144.3, y0: 359, unit: 2597, xStart: 138, xEnd: 363, labelRight: 135.5, tickLabels: aTickLabels,
  perGroup: 1, x1: 204.5, dx: 98, off: 0, xTicks: 2, barW: 70, capW: 38, dodgeStep: 17.5,
  means: aMeans, errHigh: aErrHigh, errLow: aErrLow, points: aPoints, dodge: aDodge,
  pValues: aPValues, brTop: aBracketTop, brLeft: aBracketLeftEnd, brRight: aBracketRightEnd
});

drawLineChart(byId('panelB'));

drawBarChart(byId('panelC1'), {
  axisX: 191, y0: 1458.7, unit: 173.8, xStart: 184, xEnd: 624, labelRight: 180, tickLabels: c1TickLabels,
  perGroup: 2, x1: 241.6, dx: 110.2, off: 23, xTicks: 4, barW: 32, capW: 18, dodgeStep: 9.5,
  means: c1Means, errHigh: c1ErrHigh, errLow: c1ErrLow, points: c1Points, dodge: c1Dodge,
  pValues: c1PValues, brTop: c1BracketTop, brLeft: c1BracketLeftEnd, brRight: c1BracketRightEnd
});

drawBarChart(byId('panelC2'), {
  axisX: 191, y0: 1921.3, unit: 86.5, xStart: 184, xEnd: 624, labelRight: 180, tickLabels: c2TickLabels,
  perGroup: 2, x1: 241.6, dx: 110.2, off: 23, xTicks: 4, barW: 32, capW: 18, dodgeStep: 9.5,
  means: c2Means, errHigh: c2ErrHigh, errLow: c2ErrLow, points: c2Points, dodge: c2Dodge,
  pValues: c2PValues, brTop: c2BracketTop, brLeft: c2BracketLeftEnd, brRight: c2BracketRightEnd
});

drawBarChart(byId('panelD'), {
  axisX: 939, y0: 352.3, unit: 1291.7, xStart: 932, xEnd: 1372, labelRight: 927, tickLabels: dTickLabels,
  perGroup: 2, x1: 989.6, dx: 110.1, off: 23.2, xTicks: 4, barW: 32, capW: 18, dodgeStep: 9.5,
  means: dMeans, errHigh: dErrHigh, errLow: dErrLow, points: dPoints, dodge: dDodge,
  pValues: dPValues, brTop: dBracketTop, brLeft: dBracketLeftEnd, brRight: dBracketRightEnd
});

drawBoxChart(byId('panelF1'), {
  axisX: 955.6, y0: 1140, unit: 173.3, xStart: 949, xEnd: 1390, labelRight: 943, tickLabels: f1TickLabels,
  perGroup: 2, x1: 1023, dx: 148.1, off: 30.6, xTicks: 3,
  high: f1High, q3: f1Q3, median: f1Median, q1: f1Q1, low: f1Low,
  pValues: f1PValues, brTop: f1BracketTop, brLeft: f1BracketLeftEnd, brRight: f1BracketRightEnd
});

drawBoxChart(byId('panelF2'), {
  axisX: 955.6, y0: 1560.7, unit: 103.6, xStart: 949, xEnd: 1390, labelRight: 943, tickLabels: f2TickLabels,
  perGroup: 2, x1: 1023, dx: 148.1, off: 30.6, xTicks: 3,
  high: f2High, q3: f2Q3, median: f2Median, q1: f2Q1, low: f2Low,
  pValues: f2PValues, brTop: f2BracketTop, brLeft: f2BracketLeftEnd, brRight: f2BracketRightEnd
});

drawBarChart(byId('panelG'), {
  axisX: 926.6, y0: 2018.7, unit: 646.7, xStart: 921, xEnd: 1144.6, labelRight: 916, tickLabels: gTickLabels,
  perGroup: 1, x1: 985.6, dx: 98, off: 0, xTicks: 2, barW: 70, capW: 37, dodgeStep: 18,
  means: gMeans, errHigh: gErrHigh, errLow: gErrLow, points: gPoints, dodge: gDodge,
  pValues: gPValues, brTop: gBracketTop, brLeft: gBracketLeftEnd, brRight: gBracketRightEnd
});
</script>
</svg>
</body>
</html>
